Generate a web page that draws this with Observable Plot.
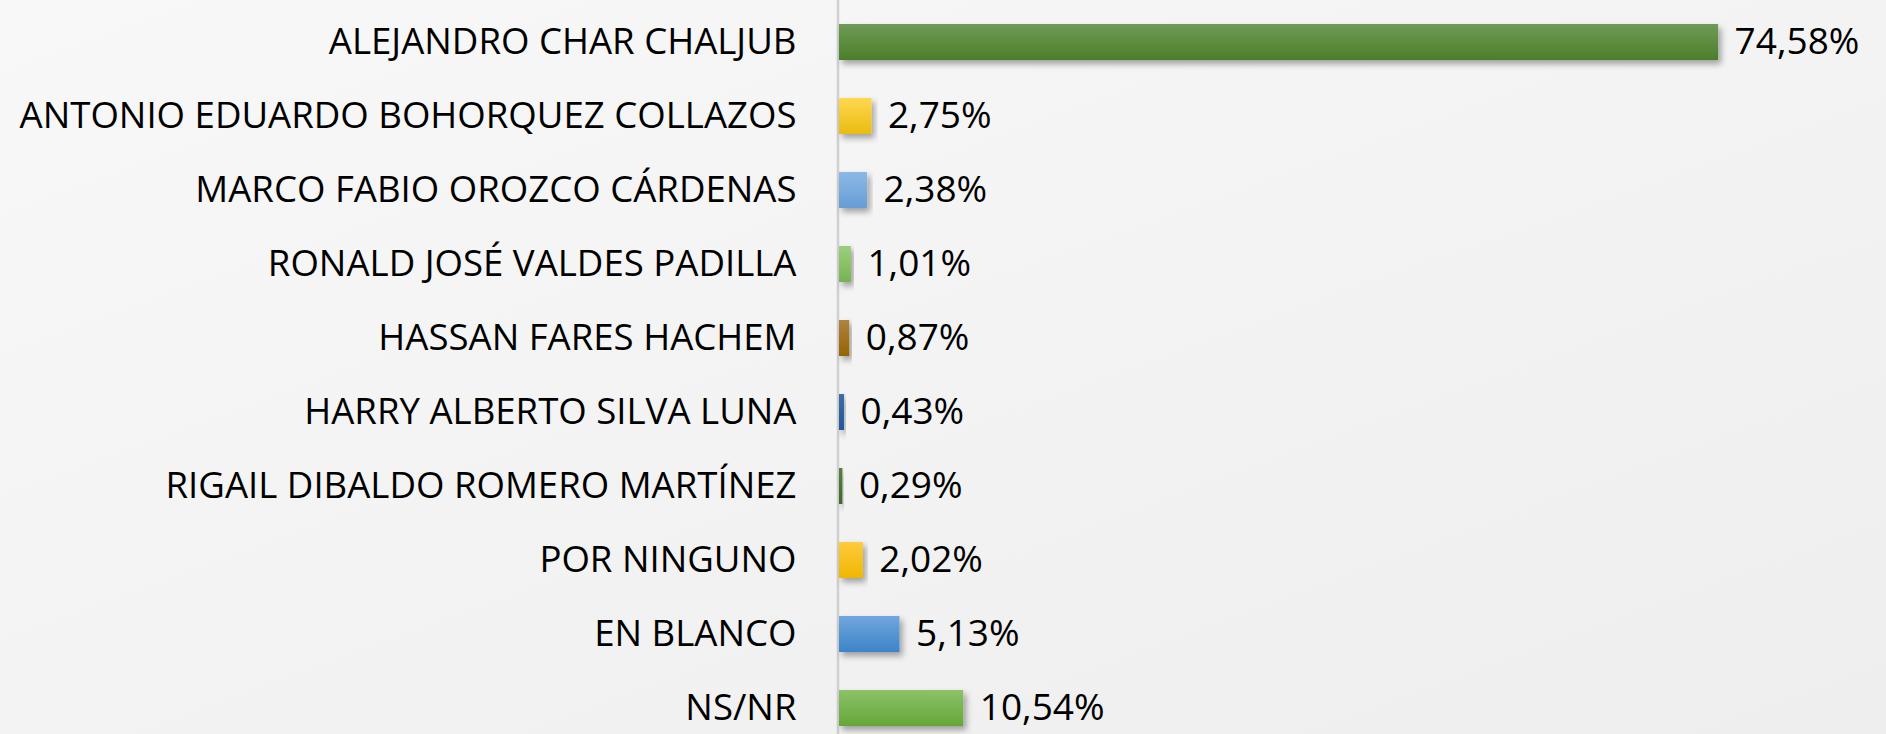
<!DOCTYPE html>
<html>
<head>
<meta charset="utf-8">
<script src="https://cdn.jsdelivr.net/npm/d3@7"></script>
<script src="https://cdn.jsdelivr.net/npm/@observablehq/plot@0.6"></script>
<style>
  html, body { margin: 0; padding: 0; }
  body {
    width: 1886px; height: 734px; overflow: hidden;
    background: linear-gradient(160deg, #f8f8f8 0%, #f3f3f3 50%, #eeeeee 100%);
  }
  #chart svg { display: block; background: transparent; }
</style>
</head>
<body>
<div id="chart"></div>
<script>
const candidates = [
  "ALEJANDRO CHAR CHALJUB",
  "ANTONIO EDUARDO BOHORQUEZ COLLAZOS",
  "MARCO FABIO OROZCO CÁRDENAS",
  "RONALD JOSÉ VALDES PADILLA",
  "HASSAN FARES HACHEM",
  "HARRY ALBERTO SILVA LUNA",
  "RIGAIL DIBALDO ROMERO MARTÍNEZ",
  "POR NINGUNO",
  "EN BLANCO",
  "NS/NR"
];
const percentages = [74.58, 2.75, 2.38, 1.01, 0.87, 0.43, 0.29, 2.02, 5.13, 10.54];
const topColors    = ["#6f9b56", "#ffd84f", "#8bb9e7", "#9ccf7c", "#ad8440", "#3d6ea8", "#567f3f", "#ffca3e", "#72a6dd", "#8cc26a"];
const bottomColors = ["#4c7e29", "#e9bb10", "#679dd5", "#76b354", "#976300", "#23569a", "#3c6a27", "#efb700", "#3c84c8", "#64a737"];

const data = candidates.map((name, i) => ({
  name, value: percentages[i], fill: `url(#grad${i})`
}));

const fmt = v => v.toFixed(2).replace(".", ",") + "%";

const W = 1886, H = 734;
const chart = Plot.plot({
  width: W,
  height: H,
  marginLeft: 839,
  marginRight: 104,
  marginTop: 0,
  marginBottom: 0,
  style: { fontFamily: "'Open Sans', sans-serif", background: "transparent", overflow: "visible" },
  x: { domain: [0, 80], axis: null },
  y: { domain: candidates, range: [0, 748.6], paddingInner: 0.52, paddingOuter: 0.268, axis: null },
  color: { type: "identity" },
  marks: [
    Plot.ruleX([0], { dx: -1.5, stroke: "#d0d0d0", strokeWidth: 2.5 }),
    Plot.barX(data, { x: "value", y: "name", fill: "fill" }),
    Plot.axisY({ tickSize: 0, tickPadding: 43, fontSize: 36.6, fill: "#000", textAnchor: "end", label: null }),
    Plot.text(data, { x: "value", y: "name", text: d => fmt(d.value), dx: 16, textAnchor: "start", fontSize: 37, fill: "#000" })
  ]
});

// defs: gradients and drop shadow
const svg = d3.select(chart);
const defs = svg.insert("defs", ":first-child");
topColors.forEach((c, i) => {
  const g = defs.append("linearGradient").attr("id", `grad${i}`)
    .attr("x1", 0).attr("y1", 0).attr("x2", 0).attr("y2", 1);
  g.append("stop").attr("offset", "0%").attr("stop-color", c);
  g.append("stop").attr("offset", "100%").attr("stop-color", bottomColors[i]);
});
const f = defs.append("filter").attr("id", "shadow")
  .attr("x", "-10%").attr("y", "-30%").attr("width", "130%").attr("height", "180%");
f.append("feDropShadow").attr("dx", 3).attr("dy", 4).attr("stdDeviation", 3)
  .attr("flood-color", "#000").attr("flood-opacity", 0.35);
svg.selectAll("rect").attr("filter", "url(#shadow)");

// vertical axis line spanning full height
svg.selectAll("line").attr("y1", 0).attr("y2", H);

document.getElementById("chart").appendChild(chart);
</script>
</body>
</html>
